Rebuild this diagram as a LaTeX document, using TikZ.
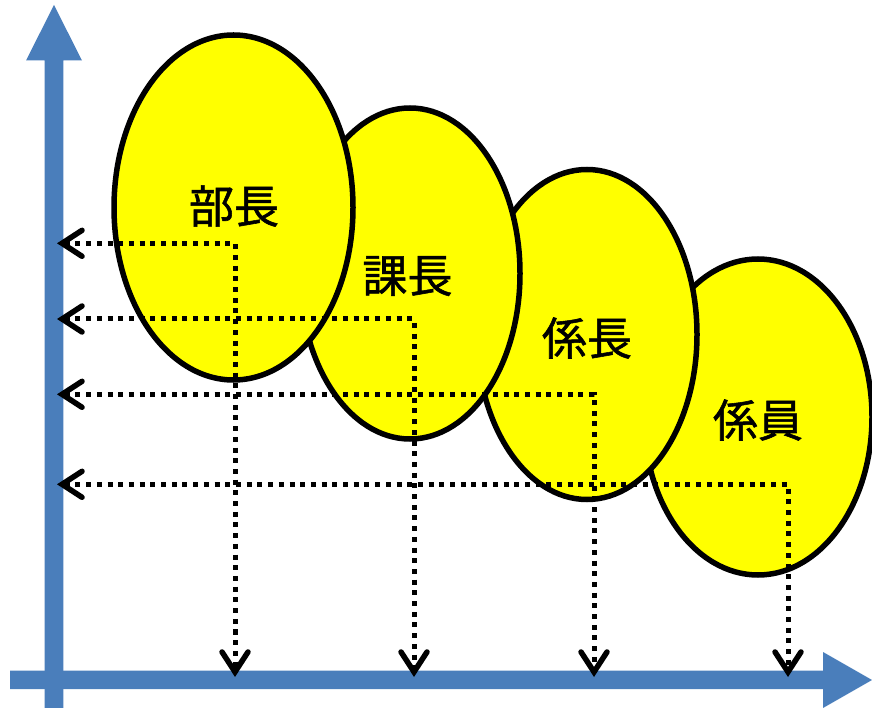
\documentclass[tikz,border=0pt]{standalone}
\usepackage{fontspec}
\newfontfamily\cjk[FakeBold=1.2]{Noto Sans CJK JP}
\usetikzlibrary{shapes.geometric,arrows.meta}
\definecolor{axisblue}{RGB}{74,126,187}
\definecolor{ellyellow}{RGB}{255,255,0}
\tikzset{
  rank/.style={ellipse, draw=black, line width=5.5pt, fill=ellyellow, inner sep=0pt},
  ranklabel/.style={font=\cjk\fontsize{45}{50}\selectfont, text=black},
  axisshape/.style={fill=axisblue, draw=none},
  barb/.style={Straight Barb[length=20pt,width=26pt,line width=5.5pt,line cap=round]},
  dotline/.style={draw=black, line width=5pt, dash pattern=on 5pt off 5.7pt, line cap=butt,
    {Straight Barb[length=20pt,width=26pt,line width=5.5pt,line cap=round]}-{Straight Barb[length=20pt,width=26pt,line width=5.5pt,line cap=round]}},
}
\begin{document}
\begin{tikzpicture}[x=1pt,y=-1pt]
\useasboundingbox (0,0) rectangle (872,708);
% axes
\fill[axisshape] (44.7,708) -- (44.7,60.5) -- (26,60.5) -- (54,5) -- (82,60.5) -- (63.3,60.5) -- (63.3,708) -- cycle;
\fill[axisshape] (10,670.5) -- (823,670.5) -- (823,652) -- (872,680) -- (823,708) -- (823,689) -- (10,689) -- cycle;
% ellipses (back to front)
\node[rank, minimum width=228pt, minimum height=316pt] (e4) at (758,417) {};
\node[rank, minimum width=220pt, minimum height=330pt] (e3) at (587,334.5) {};
\node[rank, minimum width=220pt, minimum height=331pt] (e2) at (410,273.5) {};
\node[rank, minimum width=239pt, minimum height=345pt] (e1) at (233.5,207.5) {};
% labels
\node[ranklabel] (t1) at (234,206) {部長};
\node[ranklabel] (t2) at (407.5,276) {課長};
\node[ranklabel] (t3) at (587,338) {係長};
\node[ranklabel] (t4) at (758,420) {係員};
% connector coordinates
\coordinate (c1) at (235,243.3);
\coordinate (c2) at (414,319);
\coordinate (c3) at (594,394.3);
\coordinate (c4) at (788,484.3);
\coordinate (l1) at (57,243.3);
\coordinate (l2) at (57,319);
\coordinate (l3) at (57,394.3);
\coordinate (l4) at (57,484.3);
\coordinate (b1) at (235,677);
\coordinate (b2) at (414,677);
\coordinate (b3) at (594,677);
\coordinate (b4) at (788,677);
% dotted connectors
\draw[dotline] (l1) -- (c1) -- (b1);
\draw[dotline] (l2) -- (c2) -- (b2);
\draw[dotline] (l3) -- (c3) -- (b3);
\draw[dotline] (l4) -- (c4) -- (b4);
\end{tikzpicture}
\end{document}
